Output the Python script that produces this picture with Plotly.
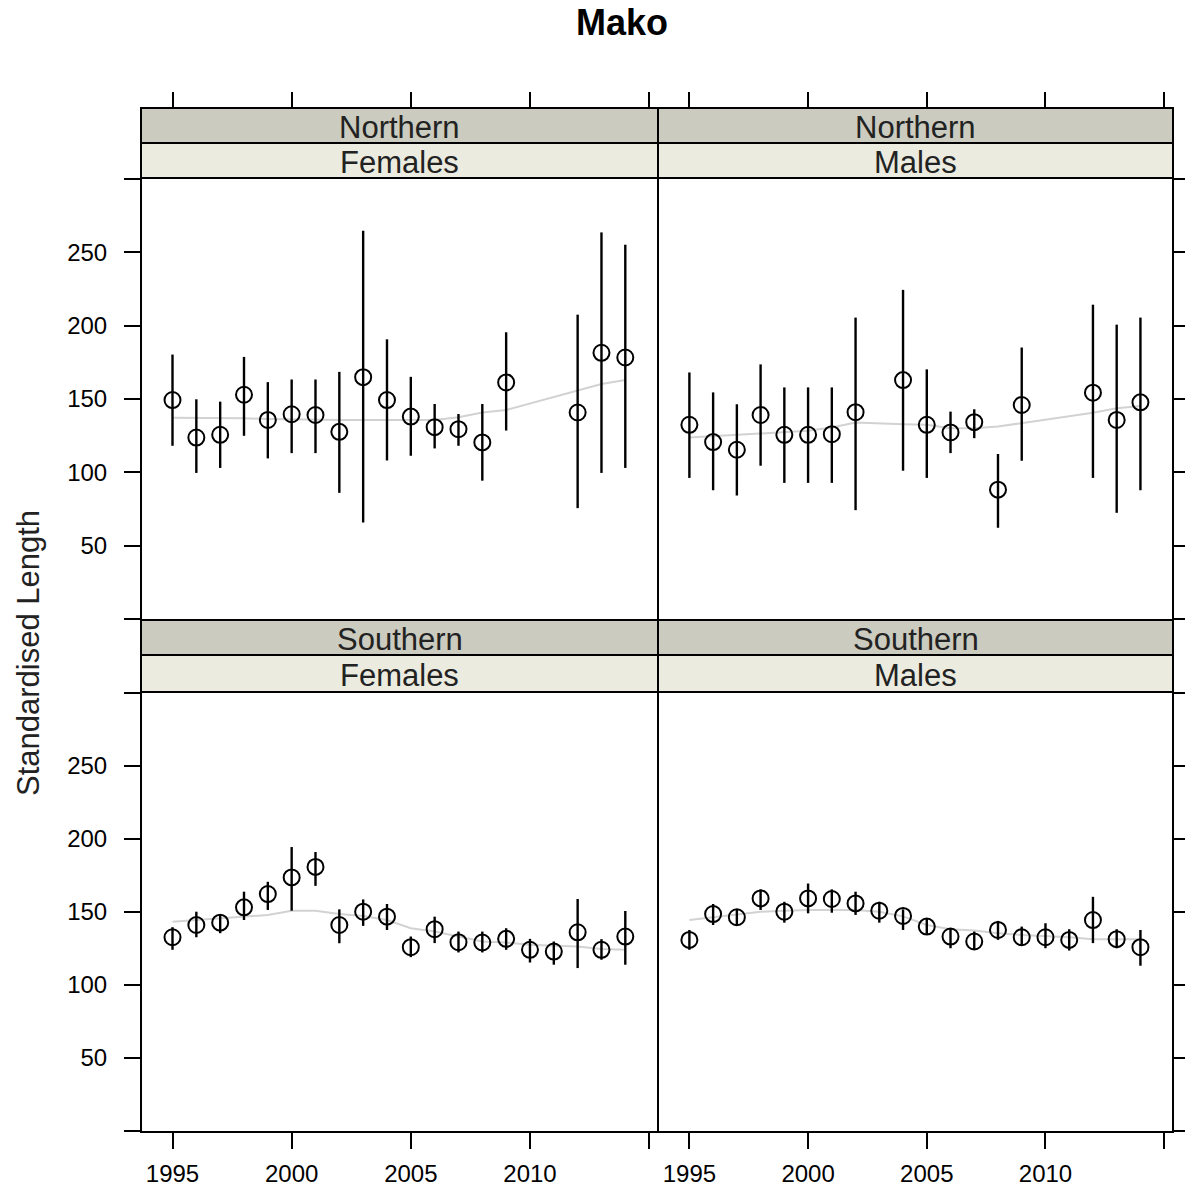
import plotly.graph_objects as go

W, H = 1185, 1194

# ---------------- data ----------------
panel_names_outer = ["Northern", "Northern", "Southern", "Southern"]
panel_names_inner = ["Females", "Males", "Females", "Males"]

nf_years = [1995, 1996, 1997, 1998, 1999, 2000, 2001, 2002, 2003, 2004, 2005, 2006, 2007, 2008, 2009, 2012, 2013, 2014]
nf_mean = [149.3, 123.7, 125.6, 152.9, 135.7, 139.6, 139.1, 127.6, 164.9, 149.3, 138.0, 130.8, 129.4, 120.4, 161.3, 140.8, 181.5, 178.3]
nf_lo = [118.1, 99.6, 103.0, 124.9, 109.5, 113.1, 113.1, 86.0, 65.8, 108.1, 111.3, 116.3, 118.1, 94.3, 128.5, 75.6, 99.6, 103.0]
nf_hi = [180.3, 149.8, 148.2, 178.7, 161.5, 163.3, 163.3, 168.5, 264.7, 190.7, 165.1, 146.6, 139.8, 146.6, 195.5, 207.5, 263.6, 255.2]
nf_smooth = [137.3, 137.2, 137.0, 136.8, 136.4, 136.0, 135.8, 135.7, 135.7, 135.7, 136.2, 135.7, 137.5, 140.8, 142.5, 156.1, 160.2, 162.9]

nm_years = [1995, 1996, 1997, 1998, 1999, 2000, 2001, 2002, 2004, 2005, 2006, 2007, 2008, 2009, 2012, 2013, 2014]
nm_mean = [132.4, 120.6, 115.4, 139.1, 125.6, 125.6, 126.0, 141.0, 162.9, 132.4, 127.2, 134.2, 88.2, 145.9, 154.3, 135.7, 147.7]
nm_lo = [96.2, 87.8, 84.2, 104.5, 92.8, 92.8, 92.8, 74.2, 101.1, 96.2, 113.1, 123.3, 62.2, 107.9, 96.2, 72.4, 87.8]
nm_hi = [168.1, 154.5, 146.4, 173.6, 157.9, 157.9, 157.9, 205.5, 224.4, 170.2, 141.4, 143.0, 112.5, 185.1, 214.3, 200.7, 205.5]
nm_smooth = [123.7, 124.6, 125.6, 126.5, 127.4, 128.3, 130.5, 133.9, 132.8, 132.4, 130.1, 130.1, 131.2, 133.5, 140.7, 143.7, 145.2]

sf_years = list(range(1995, 2015))
sf_mean = [132.7, 141.1, 142.7, 153.2, 162.3, 173.7, 180.9, 141.1, 150.2, 146.8, 125.9, 138.2, 129.3, 129.1, 131.6, 124.1, 122.9, 136.1, 124.1, 133.2]
sf_lo = [124.1, 132.7, 135.5, 144.5, 151.4, 150.9, 167.9, 128.6, 140.5, 137.7, 119.1, 128.7, 122.3, 122.3, 124.1, 115.4, 113.9, 111.6, 117.3, 113.9]
sf_hi = [139.6, 150.2, 148.0, 163.9, 170.7, 194.5, 191.1, 151.8, 158.6, 155.5, 133.2, 146.8, 136.6, 136.6, 138.9, 131.6, 129.8, 158.9, 131.4, 150.7]
sf_smooth = [143.4, 144.6, 145.7, 147.3, 148.0, 150.9, 150.9, 148.6, 147.3, 144.5, 138.9, 136.6, 133.2, 129.8, 129.1, 127.5, 126.8, 126.4, 124.6, 124.1]

sm_years = list(range(1995, 2015))
sm_mean = [130.9, 148.6, 146.4, 159.3, 150.2, 159.3, 158.9, 155.9, 150.9, 147.3, 140.0, 133.2, 129.8, 137.7, 132.7, 132.7, 130.9, 144.5, 131.4, 125.9]
sm_lo = [124.1, 141.1, 141.1, 151.4, 142.7, 149.1, 149.5, 148.0, 142.7, 137.7, 134.3, 125.2, 124.1, 130.9, 127.5, 125.2, 123.6, 128.7, 125.2, 113.2]
sm_hi = [137.7, 155.5, 151.8, 165.5, 157.0, 169.5, 165.5, 163.9, 157.0, 151.8, 145.7, 138.9, 136.6, 143.9, 140.0, 142.3, 138.2, 160.4, 138.2, 137.7]
sm_smooth = [144.5, 146.3, 148.0, 150.2, 150.8, 151.4, 151.4, 151.4, 150.2, 147.0, 141.1, 138.2, 137.3, 135.5, 134.3, 133.6, 132.7, 131.4, 131.4, 131.4]

x_tickvals = [1995, 2000, 2005, 2010, 2015]
x_ticktext = ["1995", "2000", "2005", "2010", ""]
y_tickvals = [0, 50, 100, 150, 200, 250, 300]
y_ticktext = ["", "50", "100", "150", "200", "250", ""]

# ---------------- layout helpers ----------------
FONT = "Liberation Sans, Arial, sans-serif"
def px(v):  # horizontal page pixel -> paper
    return v / W
def py(v):  # vertical page pixel -> paper
    return 1 - v / H

XRANGE = [1993.72, 2015.33]
YRANGE = [0, 300]
col_dom = [[px(142), px(657)], [px(659), px(1172)]]
row_dom = [[py(619), py(179)], [py(1131), py(693)]]
strip_outer = [(108, 143), (620, 655)]
strip_inner = [(143, 178), (655, 692)]

panels = [
    (nf_years, nf_mean, nf_lo, nf_hi, nf_smooth),
    (nm_years, nm_mean, nm_lo, nm_hi, nm_smooth),
    (sf_years, sf_mean, sf_lo, sf_hi, sf_smooth),
    (sm_years, sm_mean, sm_lo, sm_hi, sm_smooth),
]

fig = go.Figure()
layout = dict(
    width=W, height=H,
    margin=dict(l=0, r=0, t=0, b=0),
    paper_bgcolor="white", plot_bgcolor="white",
    showlegend=False,
    font=dict(family=FONT, color="black"),
)

shapes = []
annotations = []

for i, (yrs, mean, lo, hi, sm) in enumerate(panels):
    r, c = divmod(i, 2)
    n = i + 1
    xa = "x" if n == 1 else f"x{n}"
    ya = "y" if n == 1 else f"y{n}"
    xkey = "xaxis" if n == 1 else f"xaxis{n}"
    ykey = "yaxis" if n == 1 else f"yaxis{n}"

    fig.add_trace(go.Scatter(
        x=yrs, y=sm, mode="lines", xaxis=xa, yaxis=ya,
        line=dict(color="#d2d2d2", width=2), hoverinfo="skip"))
    fig.add_trace(go.Scatter(
        x=yrs, y=mean, mode="markers", xaxis=xa, yaxis=ya,
        marker=dict(symbol="circle-open", size=16, color="black", line=dict(width=2)),
        error_y=dict(type="data", symmetric=False,
                     array=[h - m for h, m in zip(hi, mean)],
                     arrayminus=[m - l for m, l in zip(mean, lo)],
                     color="black", thickness=2.4, width=0)))

    bottom = (r == 1)
    layout[xkey] = dict(
        domain=col_dom[c], range=XRANGE, anchor=ya,
        showgrid=False, zeroline=False,
        showline=True, linecolor="black", linewidth=2, mirror=True,
        ticks="outside" if bottom else "", ticklen=16, tickwidth=2, tickcolor="black",
        tickvals=x_tickvals, ticktext=x_ticktext,
        showticklabels=bottom, ticklabelstandoff=4,
        tickfont=dict(size=24, family=FONT, color="black"),
    )
    left = (c == 0)
    layout[ykey] = dict(
        domain=row_dom[r], range=YRANGE, anchor=xa,
        side="left" if left else "right",
        showgrid=False, zeroline=False,
        showline=True, linecolor="black", linewidth=2, mirror=True,
        ticks="outside", ticklen=16 if left else 12, tickwidth=2, tickcolor="black",
        tickvals=y_tickvals, ticktext=y_ticktext,
        showticklabels=left, ticklabelstandoff=12,
        tickfont=dict(size=24, family=FONT, color="black"),
    )

    # strips
    for (t, b), fill, label in [(strip_outer[r], "#cbcbbf", panel_names_outer[i]),
                                 (strip_inner[r], "#ebebdf", panel_names_inner[i])]:
        shapes.append(dict(type="rect", xref="paper", yref="paper",
                           x0=px(141 if c == 0 else 658), x1=px(658 if c == 0 else 1173),
                           y0=py(b), y1=py(t),
                           fillcolor=fill, line=dict(color="black", width=2), layer="below"))
        annotations.append(dict(xref=f"{xa} domain", yref="paper", x=0.5, y=py((t + b) / 2 + 2),
                                text=label, showarrow=False, xanchor="center", yanchor="middle",
                                font=dict(size=31, family=FONT, color="#222222")))

# top tick axes above the upper strips
for c, base in enumerate(["x", "x2"]):
    n = 5 + c
    fig.add_trace(go.Scatter(x=[None], y=[None], xaxis=f"x{n}", yaxis="y" if c == 0 else "y2",
                             mode="markers", hoverinfo="skip", showlegend=False))
    layout[f"xaxis{n}"] = dict(
        overlaying=base, anchor="free", position=py(108), side="top",
        range=XRANGE, showgrid=False, zeroline=False, showline=False,
        ticks="outside", ticklen=16, tickwidth=2, tickcolor="black",
        tickvals=x_tickvals, showticklabels=False,
    )

annotations.append(dict(xref="paper", yref="paper", x=px(28), y=py(653),
                        text="Standardised Length", textangle=-90, showarrow=False,
                        xanchor="center", yanchor="middle",
                        font=dict(size=31, family=FONT, color="#222222")))
annotations.append(dict(xref="paper", yref="paper", x=px(622), y=py(23),
                        text="<b>Mako</b>", showarrow=False,
                        xanchor="center", yanchor="middle",
                        font=dict(size=36, family=FONT, color="black")))

layout["shapes"] = shapes
layout["annotations"] = annotations
fig.update_layout(**layout)

fig.write_html("out.html",
               config={"displayModeBar": False},
               post_script="document.body.style.margin='0px';document.body.style.padding='0px';")
